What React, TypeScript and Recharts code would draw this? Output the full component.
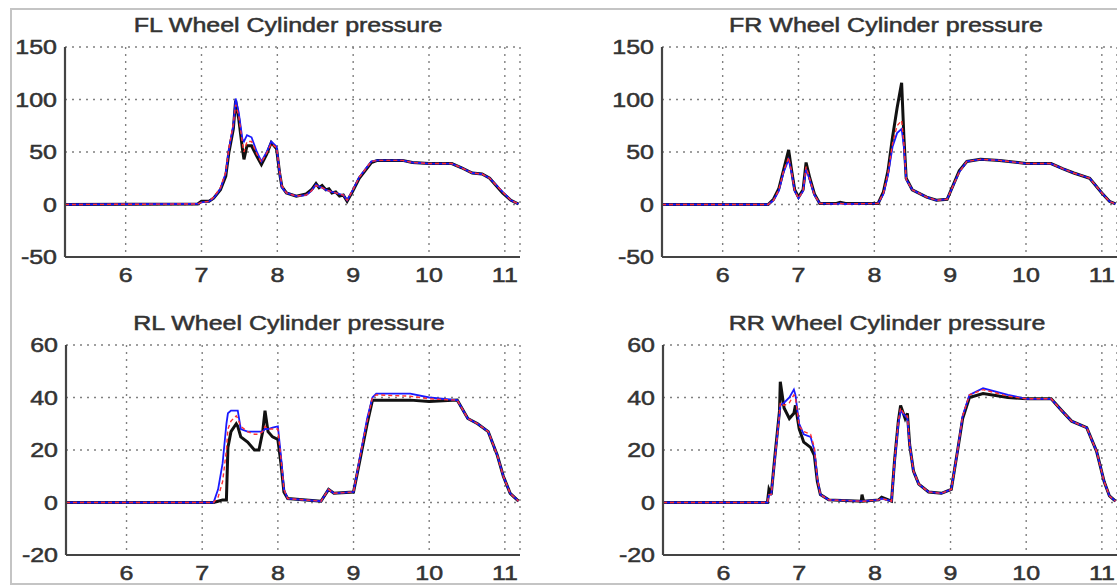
import React from 'react';
import { LineChart, Line, XAxis, YAxis, CartesianGrid } from 'recharts';

// ---------- shared axis settings ----------
const X_TICKS = [6, 7, 8, 9, 10, 11];
const X_DOMAIN: [number, number] = [5.2, 11.2];
const FRONT_Y_TICKS = [-50, 0, 50, 100, 150];
const FRONT_Y_DOMAIN: [number, number] = [-50, 150];
const REAR_Y_TICKS = [-20, 0, 20, 40, 60];
const REAR_Y_DOMAIN: [number, number] = [-20, 60];
const TITLES = [
  'FL Wheel Cylinder pressure',
  'FR Wheel Cylinder pressure',
  'RL Wheel Cylinder pressure',
  'RR Wheel Cylinder pressure',
];

// ---------- FL ----------
const flTime = [5.2, 6.95, 7.0, 7.1, 7.16, 7.25, 7.32, 7.36, 7.42, 7.45, 7.49, 7.54, 7.56, 7.6, 7.66, 7.73, 7.79, 7.86, 7.92, 7.99, 8.03, 8.06, 8.12, 8.25, 8.38, 8.45, 8.51, 8.55, 8.59, 8.64, 8.68, 8.72, 8.77, 8.82, 8.87, 8.92, 8.99, 9.08, 9.24, 9.32, 9.65, 9.78, 10.0, 10.3, 10.43, 10.57, 10.7, 10.8, 10.97, 11.08, 11.18];
const flBlack = [0, 0.5, 3, 3, 6, 14, 27, 49, 72, 99, 82, 53, 43, 56, 56, 46, 38, 48, 59, 53, 30, 17, 11, 8, 10, 14, 20, 16, 18, 14, 15, 11, 12, 8, 9, 3, 12, 25, 40, 42, 42, 40, 39, 39, 35, 30, 29, 25, 11, 4, 0.5];
const flRed = [0, 0.5, 2, 3, 7, 16, 31, 53, 77, 95, 85, 58, 50, 60, 60, 48, 40, 49, 58, 54, 32, 18, 11, 8, 9, 13, 18, 17, 16, 14, 13, 12, 11, 10, 9, 4, 13, 26, 41, 42, 42, 40, 39, 39, 35, 30, 29, 25, 12, 4, 0.5];
const flBlue = [0, 0.5, 2, 3, 6, 15, 30, 52, 75, 101, 88, 62, 60, 66, 64, 50, 41, 50, 60, 55, 30, 16, 11, 8, 9, 13, 19, 17, 16, 14, 13, 12, 11, 10, 9, 4, 13, 26, 41, 42, 42, 40, 39, 39, 35, 30, 29, 25, 12, 4, 0.5];

// ---------- FR ----------
const frTime = [5.2, 6.6, 6.67, 6.74, 6.8, 6.87, 6.91, 6.95, 7.0, 7.06, 7.1, 7.15, 7.21, 7.28, 7.5, 7.55, 7.62, 8.05, 8.12, 8.18, 8.24, 8.3, 8.36, 8.39, 8.42, 8.5, 8.69, 8.82, 8.96, 9.12, 9.22, 9.4, 9.65, 10.0, 10.33, 10.49, 10.63, 10.84, 11.0, 11.1, 11.18];
const frBlack = [0, 0, 5, 15, 32, 52, 32, 14, 7, 14, 40, 25, 10, 1, 1, 2, 1, 1, 12, 32, 64, 92, 116, 64, 25, 14, 7, 4, 5, 32, 41, 43, 42, 39, 39, 34, 30, 25, 11, 3, 0.5];
const frRed = [0, 0, 4, 14, 31, 45, 31, 13, 6, 13, 36, 24, 9, 1, 0.5, 1, 0.5, 1, 11, 30, 58, 75, 80, 58, 24, 14, 7, 4, 5, 31, 41, 43, 42, 39, 39, 34, 30, 25, 11, 3, 0.5];
const frBlue = [0, 0, 4, 13, 30, 43, 30, 13, 6, 13, 34, 23, 9, 1, 0.5, 1, 0.5, 1, 10, 28, 55, 68, 72, 55, 24, 14, 7, 4, 5, 31, 41, 43, 42, 39, 39, 34, 30, 25, 11, 3, 0.5];

// ---------- RL ----------
const rlTime = [5.2, 7.15, 7.21, 7.27, 7.32, 7.34, 7.38, 7.45, 7.47, 7.51, 7.6, 7.69, 7.75, 7.8, 7.83, 7.87, 7.93, 8.0, 8.04, 8.08, 8.13, 8.57, 8.67, 8.74, 9.0, 9.09, 9.18, 9.25, 9.3, 9.75, 10.0, 10.37, 10.51, 10.64, 10.78, 10.9, 10.98, 11.07, 11.18];
const rlBlack = [0, 0, 0.5, 1, 1, 21, 27, 30, 29, 25, 23, 20, 20, 27, 35, 27, 25, 24, 15, 4, 1.5, 0.5, 5, 3.5, 4, 17, 30, 39, 39, 39, 38.5, 39, 32, 30, 27, 18, 10, 3.5, 0.5];
const rlRed = [0, 0, 2, 8, 20, 28, 31, 33, 32, 29, 27, 26, 26, 27, 29, 28, 28, 28, 17, 5, 1.5, 0.5, 5, 3.5, 4, 18, 31, 40, 41, 40.5, 39.5, 39, 32, 30, 27, 18, 10, 3.5, 0.5];
const rlBlue = [0, 0, 5, 15, 30, 34, 35, 35, 35, 28, 27, 27, 27, 27, 28, 28, 28.5, 29, 18, 5, 1.5, 0.5, 5, 3.5, 4, 18, 32, 40, 41.5, 41.5, 40, 39, 32, 30, 27, 18, 10, 3.5, 0.5];

// ---------- RR ----------
const rrTime = [5.2, 6.58, 6.6, 6.63, 6.68, 6.74, 6.75, 6.8, 6.87, 6.93, 6.95, 7.0, 7.06, 7.15, 7.2, 7.24, 7.28, 7.39, 7.82, 7.83, 7.85, 8.05, 8.09, 8.22, 8.26, 8.31, 8.34, 8.4, 8.43, 8.46, 8.51, 8.58, 8.71, 8.88, 9.01, 9.1, 9.16, 9.25, 9.43, 9.76, 10.0, 10.33, 10.47, 10.6, 10.8, 10.93, 11.03, 11.1, 11.18];
const rrBlack = [0, 0, 5, 3, 18, 35, 46, 36, 32, 34, 37, 28, 23, 21, 18, 8, 3, 1, 0.5, 3, 0.5, 1, 2, 0.5, 16, 31, 37, 32, 34, 22, 12, 7, 4, 3.5, 5, 21, 32, 40, 41.5, 40, 39.5, 39.5, 35, 31, 28.5, 19.5, 8, 2.5, 0.5];
const rrRed = [0, 0, 3, 3, 17, 34, 38, 37, 38, 41, 40, 29, 27, 26, 21, 9, 3, 1, 0.5, 0.5, 0.5, 1, 1.5, 0.5, 16, 31, 36, 33, 33, 22, 12, 7, 4, 3.5, 5, 21, 33, 41, 43, 40.5, 39.5, 39.5, 35, 31, 28.5, 19.5, 8, 2.5, 0.5];
const rrBlue = [0, 0, 3, 3, 17, 34, 37, 38, 40, 43, 41, 30, 26, 25, 20, 9, 3, 1, 0.5, 0.5, 0.5, 1, 1.5, 0.5, 15, 30, 35, 33, 32, 22, 12, 7, 4, 3.5, 5, 21, 33, 41, 43.5, 41, 39.5, 39.5, 35, 31, 28.5, 19.5, 8, 2.5, 0.5];

const build = (t: number[], b: number[], r: number[], u: number[]) =>
  t.map((tv, i) => ({ t: tv, black: b[i], red: r[i], blue: u[i] }));

const FONT = '"Liberation Sans", Arial, Helvetica, sans-serif';
const TEXT = '#333333';
const SX = 1.25;

type PanelProps = {
  left: number;
  top: number;
  width: number;
  height: number;
  marginTop: number;
  marginRight: number;
  yWidth: number;
  xHeight: number;
  yTicks: number[];
  yDomain: [number, number];
  rows: any[];
};

const Panel = (p: PanelProps) => {
  const plotBottom = p.height - p.xHeight;
  const XTick = (props: any) => (
    <g transform={`translate(${props.x},${plotBottom + 25}) scale(${SX},1)`}>
      <text x={0} y={0} textAnchor="middle" fontSize={20} fill={TEXT} stroke={TEXT} strokeWidth={0.5} fontFamily={FONT}>
        {props.payload.value}
      </text>
    </g>
  );
  const YTick = (props: any) => (
    <g transform={`translate(${p.yWidth - 8},${props.y + 7}) scale(${SX},1)`}>
      <text x={0} y={0} textAnchor="end" fontSize={20} fill={TEXT} stroke={TEXT} strokeWidth={0.5} fontFamily={FONT}>
        {props.payload.value}
      </text>
    </g>
  );
  return (
    <div style={{ position: 'absolute', left: p.left, top: p.top, width: p.width, height: p.height }}>
      <LineChart
        width={p.width}
        height={p.height}
        data={p.rows}
        margin={{ top: p.marginTop, right: p.marginRight, bottom: 0, left: 0 }}
      >
        <CartesianGrid stroke="#808080" strokeWidth={1.4} strokeDasharray="2 5" />
        <XAxis
          dataKey="t"
          type="number"
          domain={X_DOMAIN}
          ticks={X_TICKS}
          allowDataOverflow
          height={p.xHeight}
          axisLine={{ stroke: '#444', strokeWidth: 2.2 }}
          tickLine={false}
          tick={XTick}
          interval={0}
        />
        <YAxis
          type="number"
          domain={p.yDomain}
          ticks={p.yTicks}
          allowDataOverflow
          width={p.yWidth}
          axisLine={{ stroke: '#444', strokeWidth: 2.2 }}
          tickLine={false}
          tick={YTick}
          interval={0}
        />
        <Line type="linear" dataKey="black" stroke="#111111" strokeWidth={3} dot={false} isAnimationActive={false} />
        <Line type="linear" dataKey="blue" stroke="#1a1aff" strokeWidth={1.8} dot={false} isAnimationActive={false} />
        <Line type="linear" dataKey="red" stroke="#ff3030" strokeWidth={1.4} strokeDasharray="4 3" dot={false} isAnimationActive={false} />
      </LineChart>
    </div>
  );
};

const titlePos = [
  { x: 288, y: 32 },
  { x: 886, y: 32 },
  { x: 289, y: 330 },
  { x: 887, y: 330 },
];

export default function App() {
  return (
    <div style={{ position: 'absolute', left: 0, top: 0, width: 1117, height: 585, background: '#fff', overflow: 'hidden' }}>
      <Panel left={0} top={0} width={530} height={290} marginTop={47} marginRight={10} yWidth={65} xHeight={33}
        yTicks={FRONT_Y_TICKS} yDomain={FRONT_Y_DOMAIN} rows={build(flTime, flBlack, flRed, flBlue)} />
      <Panel left={557} top={0} width={560} height={290} marginTop={47} marginRight={0} yWidth={105} xHeight={33}
        yTicks={FRONT_Y_TICKS} yDomain={FRONT_Y_DOMAIN} rows={build(frTime, frBlack, frRed, frBlue)} />
      <Panel left={0} top={290} width={530} height={295} marginTop={55} marginRight={10} yWidth={66} xHeight={30}
        yTicks={REAR_Y_TICKS} yDomain={REAR_Y_DOMAIN} rows={build(rlTime, rlBlack, rlRed, rlBlue)} />
      <Panel left={557} top={290} width={560} height={295} marginTop={55} marginRight={0} yWidth={106} xHeight={30}
        yTicks={REAR_Y_TICKS} yDomain={REAR_Y_DOMAIN} rows={build(rrTime, rrBlack, rrRed, rrBlue)} />
      <svg width={1117} height={585} style={{ position: 'absolute', left: 0, top: 0, pointerEvents: 'none' }}>
        <rect x={11} y={9} width={1130} height={575} fill="none" stroke="#c4c4c4" strokeWidth={2} />
        {TITLES.map((t, i) => (
          <g key={t} transform={`translate(${titlePos[i].x},${titlePos[i].y}) scale(${SX},1)`}>
            <text x={0} y={0} textAnchor="middle" fontSize={20} fill={TEXT} stroke={TEXT} strokeWidth={0.5} fontFamily={FONT}>{t}</text>
          </g>
        ))}
      </svg>
    </div>
  );
}
